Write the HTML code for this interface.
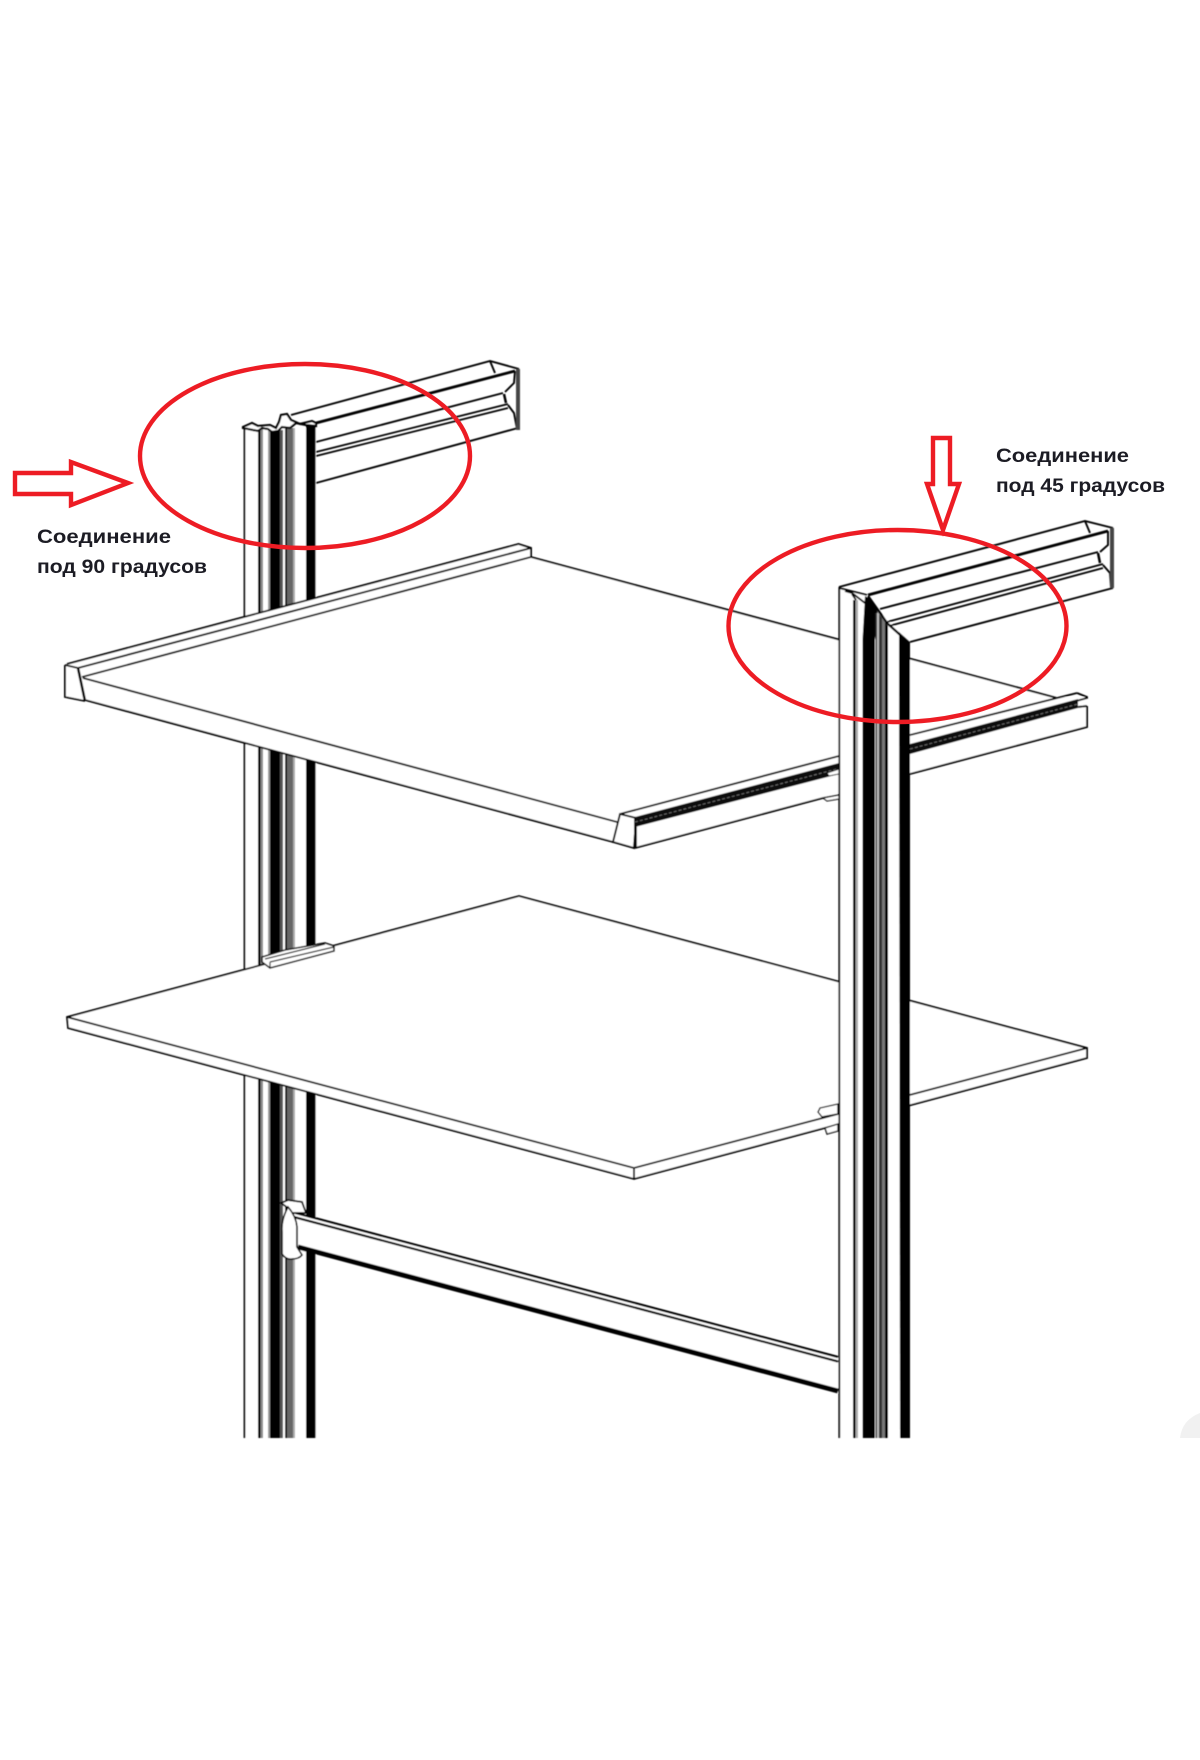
<!DOCTYPE html>
<html lang="ru">
<head>
<meta charset="utf-8">
<title>Соединение</title>
<style>
html,body{margin:0;padding:0;background:#fff;}
svg{display:block;}
text{font-family:"Liberation Sans","DejaVu Sans",sans-serif;font-weight:700;font-size:19.5px;fill:#1c1c24;}
</style>
</head>
<body>
<svg width="1200" height="1760" viewBox="0 0 1200 1760" xmlns="http://www.w3.org/2000/svg">
<defs><filter id="s" x="-2%" y="-2%" width="104%" height="104%"><feGaussianBlur stdDeviation="0.45"/></filter></defs>
<rect width="1200" height="1760" fill="#fff"/>
<path d="M1180,1438 Q1182,1420 1200,1413 L1200,1438 Z" fill="#f1f1f1"/>

<g filter="url(#s)">
<!-- left top rail -->
<g fill="none" stroke="#000" stroke-width="1.9">
  <path d="M291,415 L490,361 L519,369"/>
  <path d="M316,423 L515,371" stroke-width="2.8"/>
  <path d="M490,361 L495,373"/>
  <path d="M515,371 L514,383 L505,392"/>
  <path d="M316,442 L503,393"/>
  <path d="M316,452 L508,404" stroke-width="1.8"/>
  <path d="M316,456 L508,408" stroke-width="1.8"/>
  <path d="M508,405 L514,413 L517,429"/>
  <path d="M316,483 L518,428"/>
  <path d="M504,394 L506,403" stroke-width="2.5"/>
</g>
<rect x="516" y="369" width="4" height="61" fill="#444"/>

<!-- left post -->
<rect x="244" y="428" width="72" height="1010" fill="#fff"/>
<g>
  <rect x="243.6" y="428" width="1.8" height="1010" fill="#000"/>
  <rect x="258" y="428" width="2.5" height="1010" fill="#000"/>
  <rect x="260.5" y="428" width="2.5" height="1010" fill="#888"/>
  <rect x="268" y="430" width="2" height="1008" fill="#999"/>
  <rect x="270" y="430" width="10" height="1008" fill="#000"/>
  <rect x="280" y="430" width="3" height="1008" fill="#555"/>
  <rect x="285" y="428" width="2" height="1010" fill="#111"/>
  <rect x="287" y="428" width="6" height="1010" fill="#666"/>
  <rect x="293" y="428" width="2" height="1010" fill="#aaa"/>
  <rect x="306" y="423" width="9.6" height="1015" fill="#000"/>
</g>
<path d="M243,427 L252,423 L258,426 L270,425 L276,428 L279,422 L281,415 L287,414 L291,420 L300,424 L312,421 L316,423 L316,426 L306,425 L296,423 L290,428 L282,427 L278,431 L272,432 L268,429 L262,428 L258,431 L243,428 Z" fill="#fff" stroke="#000" stroke-width="2.2"/>

<!-- top shelf -->
<path d="M65,665 L518,544 L531,548 L531,557 L1057,697 L1087,697 L1087,727 L635,848 L613,842 L85,700 L65,698 Z" fill="#fff"/>
<g fill="none" stroke="#000" stroke-width="1.9">
  <path d="M67,664 L518.5,544 L531,548 L531,557"/>
  <path d="M78,668 L531,548"/>
  <path d="M82,677 L531,557"/>
  <path d="M65,665 L65,697 L85,701"/>
  <path d="M65,665 L78,668"/>
  <path d="M78,668 L85,701" stroke-width="2.6"/>
  <path d="M83,678 L617,822"/>
  <path d="M85,700 L613,842"/>
  <path d="M531,557 L1057,698"/>
  <path d="M620,814 L613,842 L634,848 L636,818 Z"/>
  <path d="M620,814 L839,756"/>
  <path d="M635,848 L823,798 L839,795"/>
  <path d="M1077,693 L1087,697 L1087,698 L1040,711"/>
  <path d="M910,735 L1077,693"/>
  <path d="M1087,706 L1087,727 L910,774"/>
  <path d="M1078,707 L1087,706"/>
</g>
<rect x="634" y="818" width="2.8" height="30" fill="#000"/>
<path d="M635,817 L839,763 L839,774 L635,827 Z" fill="#111"/>
<path d="M910,744 L1078,699 L1078,708 L910,754 Z" fill="#111"/>
<path d="M635,822 L839,768.5" stroke="#777" stroke-width="0.8" stroke-dasharray="3 2" fill="none"/>
<path d="M910,749 L1078,704" stroke="#777" stroke-width="0.8" stroke-dasharray="3 2" fill="none"/>
<path d="M827,773 L839,769 L839,774 L829,776 Z" fill="#fff" stroke="#111" stroke-width="1"/>
<path d="M823,798 L839,795 L839,799 L827,801 Z" fill="#fff" stroke="#111" stroke-width="1.2"/>

<!-- second shelf -->
<path d="M67,1017 L519,896 L1087,1048 L1087,1058 L634,1179 L68,1028 Z" fill="#fff"/>
<g fill="none" stroke="#000" stroke-width="1.8">
  <path d="M67,1017 L519,896 L1087,1048 L1087,1058 L634,1179 L68,1028 Z"/>
  <path d="M67,1017 L634,1168 L1087,1048"/>
  <path d="M634,1168 L634,1179"/>
</g>
<path d="M262,962 L270,968 L334,951 L334,946 L325,943 L285,950 L262,957 Z" fill="#fff" stroke="#111" stroke-width="1.6"/>
<path d="M265,959 L325,944 M270,962 L270,968 M270,962 L334,947" fill="none" stroke="#111" stroke-width="1.2"/>
<path d="M820,1108 L838,1104 L838,1114 L822,1117 L818,1112 Z" fill="#fff" stroke="#111" stroke-width="1.4"/>
<path d="M825,1128 L838,1124 L838,1131 L827,1134 Z" fill="#fff" stroke="#111" stroke-width="1.4"/>

<!-- hanging rail -->
<path d="M292,1213 L838,1358 L838,1393 L298,1247 Z" fill="#fff"/>
<path d="M292,1212 L838,1357" stroke="#000" stroke-width="2.2" fill="none"/>
<path d="M292,1216.5 L838,1361.5" stroke="#000" stroke-width="2.2" fill="none"/>
<path d="M298,1247 L838,1391" stroke="#000" stroke-width="5" fill="none"/>
<path d="M281,1203 L288,1200 L302,1202 L306,1213 L292,1213 L288,1208 Z" fill="#fff" stroke="#000" stroke-width="1.8"/>
<path d="M288,1207 Q281,1220 282,1232 L282,1254 Q286,1260 292,1259 Q299,1259 302,1255 L297,1247 L297,1227 Q296,1216 288,1207 Z" fill="#fff" stroke="#000" stroke-width="1.6"/>

<!-- right post -->
<path d="M839,587 L866,595 L880,612 L910,642 L910,1438 L839,1438 Z" fill="#fff"/>
<g>
  <rect x="838.4" y="587" width="1.8" height="851" fill="#000"/>
  <rect x="853" y="600" width="2.5" height="838" fill="#000"/>
  <rect x="855.5" y="600" width="2.5" height="838" fill="#aaa"/>
  <path d="M865,596 L872,600 L878,613 L875,640 L875,1438 L862.5,1438 L862.5,640 Z" fill="#000"/>
  <rect x="875.5" y="613" width="1.5" height="825" fill="#333"/>
  <rect x="877" y="613" width="2" height="825" fill="#bbb"/>
  <path d="M879,614 L882,618 L882,1438 L879,1438 Z" fill="#333"/>
  <path d="M882,618 L885,622 L885,1438 L882,1438 Z" fill="#777"/>
  <path d="M885,622 L888,626 L888,1438 L885,1438 Z" fill="#000"/>
  <path d="M899,632 L910,642 L910,1438 L900,1438 Z" fill="#000"/>
</g>

<!-- right top rail -->
<g fill="none" stroke="#000" stroke-width="1.9">
  <path d="M839,587 L1085,521 L1113,528"/>
  <path d="M868,595 L1108,531" stroke-width="2.8"/>
  <path d="M839,588 L867,595"/>
  <path d="M845,591 L852,593 L865,603"/>
  <path d="M852,594 L856,600"/>
  <path d="M1085,521 L1090,533"/>
  <path d="M1108,531 L1108,545 L1100,552"/>
  <path d="M880,609 L1098,552"/>
  <path d="M887,622 L1103,564" stroke-width="1.8"/>
  <path d="M889,626 L1103,568" stroke-width="1.8"/>
  <path d="M1103,565 L1110,573 L1111,588"/>
  <path d="M910,642 L1113,588"/>
  <path d="M868,596 L880,613 L887,623 L908,642" stroke-width="2.4"/>
  <path d="M1098,553 L1100,563" stroke-width="2.5"/>
</g>
<rect x="1110" y="528" width="4" height="60" fill="#444"/>
</g>

<!-- red annotation -->
<g fill="none" stroke="#ed1c24" stroke-width="4.4">
  <ellipse cx="305" cy="456" rx="165" ry="92"/>
  <ellipse cx="897.5" cy="626" rx="169" ry="96"/>
  <path d="M15,473 L71,473 L71,462 L128,483 L71,505 L71,494 L15,494 Z"/>
  <path d="M933,438 L950,438 L950,484 L959,484 L943,530 L927,484 L933,484 Z"/>
</g>

<!-- labels -->
<text x="37" y="543" textLength="134" lengthAdjust="spacingAndGlyphs">Соединение</text>
<text x="37" y="573" textLength="170" lengthAdjust="spacingAndGlyphs">под 90 градусов</text>
<text x="996" y="462" textLength="133" lengthAdjust="spacingAndGlyphs">Соединение</text>
<text x="996" y="492" textLength="169" lengthAdjust="spacingAndGlyphs">под 45 градусов</text>
</svg>
</body>
</html>
